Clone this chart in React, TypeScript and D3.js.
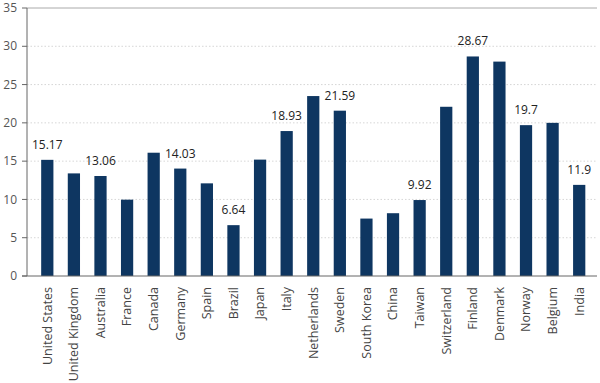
import React from "react";
import * as d3 from "d3";

const categories = ["United States","United Kingdom","Australia","France","Canada","Germany","Spain","Brazil","Japan","Italy","Netherlands","Sweden","South Korea","China","Taiwan","Switzerland","Finland","Denmark","Norway","Belgium","India"];
const values = [15.17,13.4,13.06,9.97,16.1,14.03,12.1,6.64,15.2,18.93,23.5,21.59,7.5,8.2,9.92,22.1,28.67,28.0,19.7,20.0,11.9];
const labelled = ["United States","Australia","Germany","Brazil","Italy","Sweden","Taiwan","Finland","Norway","India"];
const yTicks = [0,5,10,15,20,25,30,35];

const W = 600, H = 383;
const left = 27, right = 597, top = 8, bottom = 276;

export default function App() {
  const x = d3.scaleBand<string>().domain(categories).range([34, 592.5]).paddingInner(0.54).paddingOuter(0.27);
  const y = d3.scaleLinear().domain([0, 35]).range([bottom, top]);
  const font = "'Open Sans', 'Noto Sans', sans-serif";
  return (
    <svg width={W} height={H} style={{ position: "absolute", left: 0, top: 0 }} fontFamily={font}>
      <rect x={0} y={0} width={W} height={H} fill="#fff" />
      {yTicks.filter(t => t > 0 && t < 35).map(t => (
        <line key={"g" + t} x1={left} x2={right} y1={y(t)} y2={y(t)} stroke="#ccc" strokeWidth={0.8} strokeDasharray="1.5,2" />
      ))}
      <line x1={left} x2={right} y1={y(35)} y2={y(35)} stroke="#aaa" strokeWidth={1} />
      {categories.map((c, i) => (
        <rect key={c} x={x(c)} y={y(values[i])} width={x.bandwidth()} height={bottom - y(values[i])} fill="#0e3661" />
      ))}
      <line x1={left} x2={left} y1={top} y2={bottom} stroke="#666" strokeWidth={1} />
      <line x1={22} x2={right} y1={bottom} y2={bottom} stroke="#666" strokeWidth={1} />
      {yTicks.map(t => (
        <g key={"t" + t}>
          <line x1={22} x2={left} y1={y(t)} y2={y(t)} stroke="#666" strokeWidth={1} />
          <text x={17} y={y(t)} dy="0.35em" textAnchor="end" fontSize={12} fill="#555">{t}</text>
        </g>
      ))}
      {categories.map((c, i) => labelled.includes(c) ? (
        <text key={"l" + c} x={x(c)! + x.bandwidth() / 2} y={y(values[i]) - 11} textAnchor="middle" fontSize={12} fill="#222">{values[i]}</text>
      ) : null)}
      {categories.map(c => (
        <text key={"x" + c} transform={`translate(${x(c)! + x.bandwidth() / 2},${287}) rotate(-90)`} dy="0.35em" textAnchor="end" fontSize={12.5} fill="#444">{c}</text>
      ))}
    </svg>
  );
}
